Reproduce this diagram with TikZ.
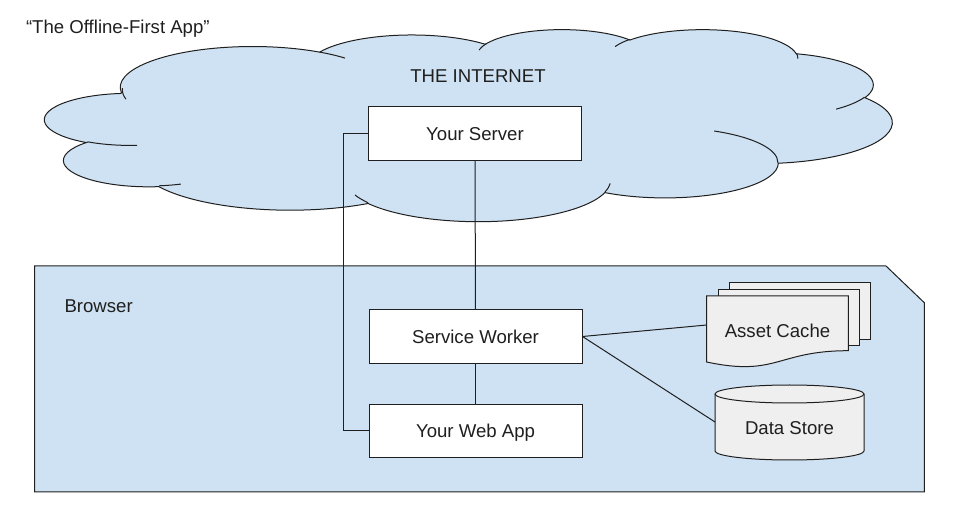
\documentclass[tikz,border=0pt]{standalone}
\usepackage{fontspec}
\setmainfont{Liberation Sans}
\usepackage{xcolor}
\definecolor{skyfill}{HTML}{CFE2F3}
\definecolor{pagefill}{HTML}{EFEFEF}
\definecolor{inkline}{HTML}{1F1F1F}
\newcommand{\lobe}[4]{%
	\pgfextra{%
		\pgfmathparse{atan2(#1*sin(#3),#2*cos(#3))}\global\let\lobeS\pgfmathresult
		\pgfmathparse{atan2(#1*sin(#3+#4),#2*cos(#3+#4))}\global\let\lobeE\pgfmathresult
		\pgfmathparse{mod(\lobeE-\lobeS+720,360)}\global\let\lobeD\pgfmathresult
		\pgfmathparse{#1/432}\global\let\lobeX\pgfmathresult
		\pgfmathparse{#2/432}\global\let\lobeY\pgfmathresult}%
	arc[start angle=\lobeS, delta angle=\lobeD, x radius=\lobeX, y radius=\lobeY]}

\begin{document}
\begin{tikzpicture}[x=1pt, y=-1pt,
	line width=1pt, draw=inkline,
	every node/.style={font=\fontsize{18.6}{22}\selectfont, inner sep=0pt, text=inkline},
	box/.style={draw=inkline, fill=white, minimum width=213pt, minimum height=53.5pt, text height=13.3pt, text depth=0pt},
	page/.style={draw=inkline, fill=pagefill},
	tag/.style={anchor=base}]
	\useasboundingbox (0,0) rectangle (959,518);
	\begin{scope}[shift={(45,29)}, x=8.47pt, y=-1.92pt]
		\draw[fill=skyfill] (9.0278,33.2639)
			\lobe{6753}{9190}{-190.4875}{123.7805}
			\lobe{5333}{7267}{-144.1024}{89.9452}
			\lobe{4365}{5945}{-145.8079}{99.7230}
			\lobe{4857}{6595}{-130.9861}{117.2417}
			\lobe{5333}{7273}{-78.7089}{109.0269}
			\lobe{6775}{9220}{-46.2673}{130.2690}
			\lobe{5785}{7867}{0.6250}{114.0333}
			\lobe{6752}{9215}{22.4516}{115.1726}
			\lobe{7720}{10543}{66.2426}{75.7110}
			\lobe{4360}{5918}{-274.9421}{146.7356}
			\lobe{4345}{5945}{-246.8285}{152.5189}
			-- cycle;
		\draw (10.8634,60.5949) \lobe{4345}{5945}{86.7420}{26.4295}
			(16.0370,80.7847) \lobe{4360}{5918}{73.6105}{11.4475}
			(38.1435,90.4861) \lobe{6752}{9215}{137.6242}{14.0811}
			(66.7292,80.4421) \lobe{6752}{9215}{6.4533}{15.9984}
			(79.0023,53.1343) \lobe{5785}{7867}{-70.2924}{70.9174}
			(96.7546,35.5417) \lobe{5333}{7273}{30.3180}{27.7515}
			(88.7130,12.5602) \lobe{4857}{6595}{-13.7443}{14.8665}
			(67.3102,9.1481) \lobe{4857}{6595}{-149.1815}{18.1959}
			(51.2523,10.9259) \lobe{4365}{5945}{-163.4943}{17.6990}
			(32.4074,12.0185) \lobe{6753}{9190}{-66.7070}{12.3194}
			(9.5532,36.5486) \lobe{6753}{9190}{162.0493}{20.8257};
	\end{scope}
	\node[tag, anchor=base west] (title) at (25.5,33.3) {“The Offline-First App”};
	\node[tag] (internet) at (478,82.7) {THE INTERNET};
	\draw[fill=skyfill] (34.5,266) -- (886,266) -- (924.3,302.7) -- (924.3,492) -- (34.5,492) -- cycle;
	\node[tag, anchor=base west] (browser) at (64,312.3) {Browser};
	\node[box] (server) at (475,133.5) {Your Server};
	\node[box] (worker) at (475.5,336.5) {Service Worker};
	\node[box] (webapp) at (475.5,431) {Your Web App};
	\draw (server) -- (worker);
	\draw (worker) -- (webapp);
	\draw (server.west) -- ++(-25,0) |- (webapp.west);
	\draw[page] (729.3,282.7) rectangle (870.7,340);
	\draw[page] (718.3,289.3) rectangle (859.3,346);
	\draw[page] (706.7,296) -- (848.3,296) -- (848.3,350.7) .. controls (777,350.7) and (777,377) .. (706.7,362) -- cycle;
	\node (cache) at (777.5,331) {Asset Cache};
	\coordinate (cacheport) at (706.7,325);
	\draw[page] (715,394) -- (715,451) arc[start angle=180, end angle=360, x radius=74.5pt, y radius=9pt] -- (864,394) arc[start angle=0, end angle=180, x radius=74.5pt, y radius=9pt] -- cycle;
	\draw (715,394) arc[start angle=180, end angle=360, x radius=74.5pt, y radius=9pt];
	\node (store) at (789.5,428) {Data Store};
	\coordinate (storeport) at (715,422);
	\draw (worker.east) -- (cacheport);
	\draw (worker.east) -- (storeport);
\end{tikzpicture}
\end{document}
